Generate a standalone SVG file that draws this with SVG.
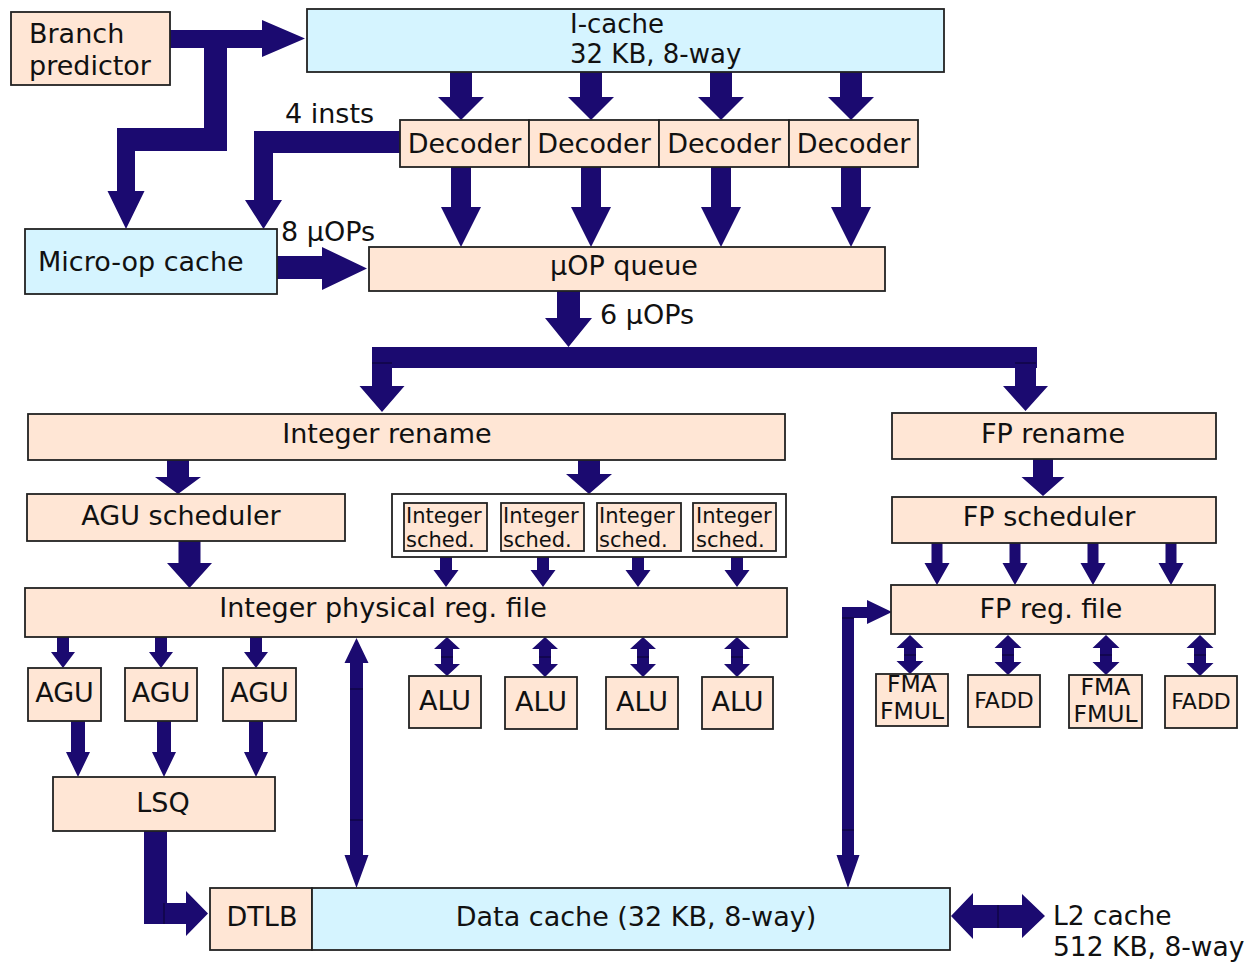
<svg xmlns="http://www.w3.org/2000/svg" width="1253" height="962" viewBox="0 0 1253 962">
  <style>
    .box { fill: #ffe6d5; stroke: #222; stroke-width: 1.8; }
    .mem { fill: #d5f4ff; stroke: #222; stroke-width: 1.8; }
    .frame { fill: #ffffff; stroke: #222; stroke-width: 1.8; }
    .arr { fill: #1b0a70; stroke: none; }
    .seam { stroke: #0a0330; stroke-width: 1; fill: none; }
    text { font-family: "DejaVu Sans", "Noto Sans", sans-serif; fill: #111; }
    .t { font-size: 27px; }
    .ic { font-size: 26px; }
    .l2 { font-size: 26.5px; }
    .c { text-anchor: middle; }
    .s { font-size: 21px; }
    .f { font-size: 23.5px; }
  </style>

  <!-- connectors: wide block arrows -->
  <g id="connectors">
    <!-- branch predictor to I-cache and micro-op cache -->
    <polygon class="arr" points="170,30 262,30 262,20 305,38.5 262,57 262,48 227,48 227,151 135,151 135,191 144.5,191 126,229 107.5,191 117,191 117,128 204,128 204,48 170,48"/>
    <!-- I-cache to decoders -->
    <polygon class="arr" points="450,72 472,72 472,97 484,97 461,120 438,97 450,97"/>
    <polygon class="arr" points="580,72 602,72 602,97 614,97 591,120 568,97 580,97"/>
    <polygon class="arr" points="710,72 732,72 732,97 744,97 721,120 698,97 710,97"/>
    <polygon class="arr" points="840,72 862,72 862,97 874,97 851,120 828,97 840,97"/>
    <!-- 4 insts path from decoders to micro-op cache -->
    <polygon class="arr" points="400,131 400,153 273,153 273,200 282,200 263.5,229 245,200 254,200 254,131"/>
    <!-- decoders to uOP queue -->
    <polygon class="arr" points="451,167 471,167 471,207 481,207 461,247 441,207 451,207"/>
    <polygon class="arr" points="581,167 601,167 601,207 611,207 591,247 571,207 581,207"/>
    <polygon class="arr" points="711,167 731,167 731,207 741,207 721,247 701,207 711,207"/>
    <polygon class="arr" points="841,167 861,167 861,207 871,207 851,247 831,207 841,207"/>
    <!-- micro-op cache to uOP queue -->
    <polygon class="arr" points="277,256 322,256 322,247 367,268.5 322,290 322,279 277,279"/>
    <!-- uOP queue to rename split -->
    <polygon class="arr" points="557,291 580,291 580,318 592,318 568.5,347 545,318 557,318"/>
    <rect class="arr" x="372" y="347" width="665" height="21"/>
    <polygon class="arr" points="372,363 392,363 392,386 404.5,386 382,412 359.5,386 372,386"/>
    <polygon class="arr" points="1015,363 1036,363 1036,386 1048,386 1025.5,411 1003,386 1015,386"/>
    <line class="seam" x1="372" y1="363" x2="392" y2="363"/>
    <line class="seam" x1="1015" y1="363" x2="1036" y2="363"/>
    <!-- integer rename to schedulers -->
    <polygon class="arr" points="167,460 189,460 189,477 201,477 178,494 155,477 167,477"/>
    <polygon class="arr" points="578,460 600,460 600,474 612,474 589,494 566,474 578,474"/>
    <!-- AGU scheduler to integer register file -->
    <polygon class="arr" points="178.5,541 200.5,541 200.5,563 212,563 189.5,588 167,563 178.5,563"/>
    <!-- integer schedulers to integer register file -->
    <polygon class="arr" points="440,557 452,557 452,570 458.5,570 446,587 433.5,570 440,570"/>
    <polygon class="arr" points="537,557 549,557 549,570 555.5,570 543,587 530.5,570 537,570"/>
    <polygon class="arr" points="632,557 644,557 644,570 650.5,570 638,587 625.5,570 632,570"/>
    <polygon class="arr" points="731,557 743,557 743,570 749.5,570 737,587 724.5,570 731,570"/>
    <!-- integer register file to AGUs -->
    <polygon class="arr" points="57,637 69,637 69,652 75,652 63,668 51,652 57,652"/>
    <polygon class="arr" points="155,637 167,637 167,652 173,652 161,668 149,652 155,652"/>
    <polygon class="arr" points="250,637 262,637 262,652 268,652 256,668 244,652 250,652"/>
    <!-- AGUs to LSQ -->
    <polygon class="arr" points="71,721 85,721 85,752 90,752 78,777 66,752 71,752"/>
    <polygon class="arr" points="157,721 171,721 171,752 176,752 164,777 152,752 157,752"/>
    <polygon class="arr" points="249,721 263,721 263,752 268,752 256,777 244,752 249,752"/>
    <!-- LSQ to DTLB -->
    <polygon class="arr" points="144,831 167,831 167,903 186,903 186,891 208,913.5 186,936 186,924 144,924"/>
    <line class="seam" x1="164" y1="903" x2="164" y2="924"/>
    <!-- integer register file to and from data cache -->
    <polygon class="arr" points="356.5,638 368.5,663 363,663 363,855 368.5,855 356.5,888 344.5,855 350,855 350,663 344.5,663"/>
    <line class="seam" x1="350" y1="689" x2="363" y2="689"/>
    <line class="seam" x1="350" y1="820" x2="363" y2="820"/>
    <!-- integer register file to and from ALUs -->
    <polygon class="arr" points="447,637 460,649 453,649 453,664 460,664 447,676 434,664 441,664 441,649 434,649"/>
    <polygon class="arr" points="545,637 558,649 551,649 551,664 558,664 545,677 532,664 539,664 539,649 532,649"/>
    <polygon class="arr" points="643,637 656,649 649,649 649,664 656,664 643,677 630,664 637,664 637,649 630,649"/>
    <polygon class="arr" points="737,637 750,649 743,649 743,664 750,664 737,677 724,664 731,664 731,649 724,649"/>
    <line class="seam" x1="441" y1="657" x2="453" y2="657"/>
    <line class="seam" x1="539" y1="657" x2="551" y2="657"/>
    <line class="seam" x1="637" y1="657" x2="649" y2="657"/>
    <line class="seam" x1="731" y1="657" x2="743" y2="657"/>
    <!-- FP rename to FP scheduler -->
    <polygon class="arr" points="1033,459 1053,459 1053,477 1064.5,477 1043,496 1021.5,477 1033,477"/>
    <!-- FP scheduler to FP register file -->
    <polygon class="arr" points="931.5,543 942.5,543 942.5,563 949.5,563 937,585 924.5,563 931.5,563"/>
    <polygon class="arr" points="1009.5,543 1020.5,543 1020.5,563 1027.5,563 1015,585 1002.5,563 1009.5,563"/>
    <polygon class="arr" points="1087.5,543 1098.5,543 1098.5,563 1105.5,563 1093,585 1080.5,563 1087.5,563"/>
    <polygon class="arr" points="1165.5,543 1176.5,543 1176.5,563 1183.5,563 1171,585 1158.5,563 1165.5,563"/>
    <!-- FP register file to and from FP units -->
    <polygon class="arr" points="910,635 923.5,648 916,648 916,661 923.5,661 910,674 896.5,661 904,661 904,648 896.5,648"/>
    <polygon class="arr" points="1008,635 1021.5,648 1014,648 1014,662 1021.5,662 1008,675 994.5,662 1002,662 1002,648 994.5,648"/>
    <polygon class="arr" points="1106,635 1119.5,648 1112,648 1112,662 1119.5,662 1106,675 1092.5,662 1100,662 1100,648 1092.5,648"/>
    <polygon class="arr" points="1200,635 1213.5,648 1206,648 1206,663 1213.5,663 1200,676 1186.5,663 1194,663 1194,648 1186.5,648"/>
    <line class="seam" x1="904" y1="655" x2="916" y2="655"/>
    <line class="seam" x1="1002" y1="655" x2="1014" y2="655"/>
    <line class="seam" x1="1100" y1="655" x2="1112" y2="655"/>
    <line class="seam" x1="1194" y1="655" x2="1206" y2="655"/>
    <!-- data cache to and from FP register file -->
    <polygon class="arr" points="892,612 867,624 867,618 854,618 854,855 859.5,855 848,888 836.5,855 842,855 842,607 867,607 867,600"/>
    <line class="seam" x1="842" y1="618" x2="854" y2="618"/>
    <line class="seam" x1="842" y1="830" x2="854" y2="830"/>
    <!-- data cache to and from L2 -->
    <polygon class="arr" points="951,916 973,893 973,905 1022,905 1022,894 1045,916 1022,938 1022,928 973,928 973,939"/>
    <line class="seam" x1="998" y1="905" x2="998" y2="928"/>
  </g>

  <!-- front end -->
  <g id="branch-predictor">
    <rect class="box" x="11" y="12" width="159" height="73"/>
    <text class="t" x="29" y="43">Branch</text>
    <text class="t" x="29" y="75">predictor</text>
  </g>
  <g id="icache">
    <rect class="mem" x="307" y="9" width="637" height="63"/>
    <text class="ic" x="570" y="33">I-cache</text>
    <text class="ic" x="570" y="63">32 KB, 8-way</text>
  </g>
  <text class="t" x="285" y="123">4 insts</text>
  <g id="decoder-1">
    <rect class="box" x="400" y="120" width="129" height="47"/>
    <text class="t c" x="464.5" y="153">Decoder</text>
  </g>
  <g id="decoder-2">
    <rect class="box" x="529" y="120" width="130" height="47"/>
    <text class="t c" x="594" y="153">Decoder</text>
  </g>
  <g id="decoder-3">
    <rect class="box" x="659" y="120" width="130" height="47"/>
    <text class="t c" x="724" y="153">Decoder</text>
  </g>
  <g id="decoder-4">
    <rect class="box" x="789" y="120" width="129" height="47"/>
    <text class="t c" x="853.5" y="153">Decoder</text>
  </g>
  <g id="micro-op-cache">
    <rect class="mem" x="25" y="229" width="252" height="65"/>
    <text class="t" x="38" y="271">Micro-op cache</text>
  </g>
  <text class="t" x="281" y="241">8 µOPs</text>
  <g id="uop-queue">
    <rect class="box" x="369" y="247" width="516" height="44"/>
    <text class="t c" x="624" y="275">µOP queue</text>
  </g>
  <text class="t" x="600" y="324">6 µOPs</text>

  <!-- integer side -->
  <g id="integer-rename">
    <rect class="box" x="28" y="414" width="757" height="46"/>
    <text class="t c" x="387" y="443">Integer rename</text>
  </g>
  <g id="agu-scheduler">
    <rect class="box" x="27" y="494" width="318" height="47"/>
    <text class="t c" x="181" y="525">AGU scheduler</text>
  </g>
  <g id="integer-schedulers">
    <rect class="frame" x="392" y="494" width="394" height="63"/>
    <rect class="box" x="404" y="503" width="83" height="48"/>
    <text class="s" x="406" y="523">Integer</text>
    <text class="s" x="406" y="547">sched.</text>
    <rect class="box" x="501" y="503" width="83" height="48"/>
    <text class="s" x="503" y="523">Integer</text>
    <text class="s" x="503" y="547">sched.</text>
    <rect class="box" x="597" y="503" width="84" height="48"/>
    <text class="s" x="599" y="523">Integer</text>
    <text class="s" x="599" y="547">sched.</text>
    <rect class="box" x="693" y="503" width="83" height="48"/>
    <text class="s" x="696" y="523">Integer</text>
    <text class="s" x="696" y="547">sched.</text>
  </g>
  <g id="integer-regfile">
    <rect class="box" x="25" y="588" width="762" height="49"/>
    <text class="t c" x="383" y="617">Integer physical reg. file</text>
  </g>
  <g id="agu-1">
    <rect class="box" x="28" y="668" width="73" height="53"/>
    <text class="t c" x="64.5" y="702">AGU</text>
  </g>
  <g id="agu-2">
    <rect class="box" x="125" y="668" width="72" height="53"/>
    <text class="t c" x="161" y="702">AGU</text>
  </g>
  <g id="agu-3">
    <rect class="box" x="223" y="668" width="73" height="53"/>
    <text class="t c" x="259.5" y="702">AGU</text>
  </g>
  <g id="alu-1">
    <rect class="box" x="409" y="676" width="72" height="52"/>
    <text class="t c" x="445" y="710">ALU</text>
  </g>
  <g id="alu-2">
    <rect class="box" x="505" y="677" width="72" height="52"/>
    <text class="t c" x="541" y="711">ALU</text>
  </g>
  <g id="alu-3">
    <rect class="box" x="606" y="677" width="72" height="52"/>
    <text class="t c" x="642" y="711">ALU</text>
  </g>
  <g id="alu-4">
    <rect class="box" x="702" y="677" width="71" height="52"/>
    <text class="t c" x="737.5" y="711">ALU</text>
  </g>
  <g id="lsq">
    <rect class="box" x="53" y="777" width="222" height="54"/>
    <text class="t c" x="163" y="812">LSQ</text>
  </g>

  <!-- memory -->
  <g id="dtlb">
    <rect class="box" x="210" y="888" width="102" height="62"/>
    <text class="t c" x="262" y="926">DTLB</text>
  </g>
  <g id="data-cache">
    <rect class="mem" x="312" y="888" width="638" height="62"/>
    <text class="t c" x="636" y="926">Data cache (32 KB, 8-way)</text>
  </g>
  <g id="l2-cache">
    <text class="l2" x="1053" y="925">L2 cache</text>
    <text class="l2" x="1053" y="956">512 KB, 8-way</text>
  </g>

  <!-- floating point side -->
  <g id="fp-rename">
    <rect class="box" x="892" y="413" width="324" height="46"/>
    <text class="t c" x="1053" y="443">FP rename</text>
  </g>
  <g id="fp-scheduler">
    <rect class="box" x="892" y="497" width="324" height="46"/>
    <text class="t c" x="1049" y="526">FP scheduler</text>
  </g>
  <g id="fp-regfile">
    <rect class="box" x="891" y="585" width="324" height="49"/>
    <text class="t c" x="1051" y="618">FP reg. file</text>
  </g>
  <g id="fma-1">
    <rect class="box" x="876" y="674" width="72" height="52"/>
    <text class="f c" x="912" y="692">FMA</text>
    <text class="f c" x="912" y="719">FMUL</text>
  </g>
  <g id="fadd-1">
    <rect class="box" x="968" y="675" width="72" height="52"/>
    <text class="c" x="1004" y="708" font-size="22">FADD</text>
  </g>
  <g id="fma-2">
    <rect class="box" x="1069" y="675" width="73" height="53"/>
    <text class="f c" x="1105.5" y="695">FMA</text>
    <text class="f c" x="1105.5" y="722">FMUL</text>
  </g>
  <g id="fadd-2">
    <rect class="box" x="1165" y="676" width="72" height="52"/>
    <text class="c" x="1201" y="709" font-size="22">FADD</text>
  </g>
</svg>
